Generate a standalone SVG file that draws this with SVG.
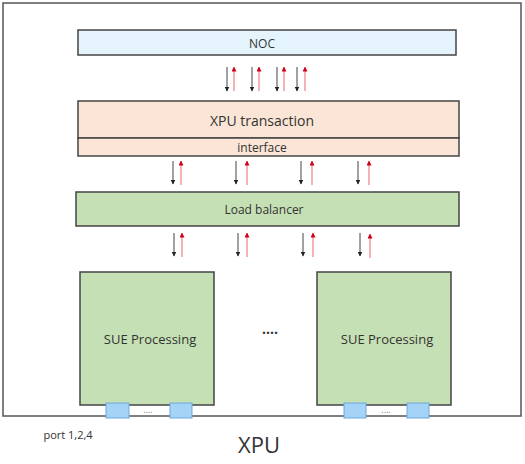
<svg xmlns="http://www.w3.org/2000/svg" width="525" height="464" viewBox="0 0 525 464">
<defs>
<marker id="hb" viewBox="0 0 10 10" refX="9" refY="5" markerWidth="5" markerHeight="5" orient="auto" markerUnits="userSpaceOnUse"><path d="M0,0 L10,5 L0,10 z" fill="#222"/></marker>
<marker id="hr" viewBox="0 0 10 10" refX="9" refY="5" markerWidth="5" markerHeight="5" orient="auto" markerUnits="userSpaceOnUse"><path d="M0,0 L10,5 L0,10 z" fill="#d0021b"/></marker>
</defs>
<style>
text{font-family:"Open Sans","Noto Sans",sans-serif;fill:#333;text-anchor:middle;dominant-baseline:central}
.box{stroke:#444;stroke-width:1.5}
.dn{stroke:#444;stroke-width:1;marker-end:url(#hb)}
.up{stroke:#f08a8a;stroke-width:1.3;marker-end:url(#hr)}
.port{fill:#a4d3f7;stroke:#6fa8dc;stroke-width:1}
.dots{fill:#777;font-size:9px}
</style>
<rect id="frame" x="3" y="3" width="518" height="413" fill="#fff" stroke="#555" stroke-width="1.5"/>
<g id="noc"><rect class="box" x="78" y="30" width="378" height="25" fill="#e4f3fc"/><text x="262" y="43" font-size="12">NOC</text></g>
<g id="xpu-transaction"><rect class="box" x="78" y="101" width="381" height="37" fill="#fbe5d6"/><text x="262" y="120" font-size="14">XPU transaction</text></g>
<g id="interface"><rect class="box" x="78" y="138" width="381" height="18" fill="#fbe5d6"/><text x="262" y="147" font-size="12">interface</text></g>
<g id="load-balancer"><rect class="box" x="76" y="192" width="383" height="34" fill="#c5e0b4"/><text x="264" y="209" font-size="12">Load balancer</text></g>
<g id="sue1"><rect class="box" x="80" y="272" width="134" height="133" fill="#c5e0b4"/><text x="150" y="339" font-size="13">SUE Processing</text></g>
<g id="sue2"><rect class="box" x="317" y="272" width="134" height="133" fill="#c5e0b4"/><text x="387" y="339" font-size="13">SUE Processing</text></g>
<g id="ports1"><rect class="port" x="106" y="403" width="23" height="15"/><rect class="port" x="170" y="403" width="22" height="15"/><text class="dots" x="148" y="409">....</text></g>
<g id="ports2"><rect class="port" x="344" y="403" width="22" height="15"/><rect class="port" x="407" y="403" width="22" height="15"/><text class="dots" x="386" y="409">....</text></g>
<text x="270" y="328" font-size="14" font-weight="bold">....</text>
<text x="68" y="434" font-size="11">port 1,2,4</text>
<text x="259" y="444" font-size="22">XPU</text>
<g id="connectors">
<line class="dn" x1="227" y1="67" x2="227" y2="91"/><line class="up" x1="234" y1="91" x2="234" y2="67"/>
<line class="dn" x1="252" y1="67" x2="252" y2="91"/><line class="up" x1="259" y1="91" x2="259" y2="67"/>
<line class="dn" x1="277" y1="67" x2="277" y2="91"/><line class="up" x1="284" y1="91" x2="284" y2="67"/>
<line class="dn" x1="297" y1="67" x2="297" y2="91"/><line class="up" x1="305" y1="91" x2="305" y2="67"/>
<line class="dn" x1="173" y1="161" x2="173" y2="184"/><line class="up" x1="181" y1="185" x2="181" y2="161"/>
<line class="dn" x1="236" y1="161" x2="236" y2="184"/><line class="up" x1="247" y1="185" x2="247" y2="161"/>
<line class="dn" x1="301" y1="161" x2="301" y2="184"/><line class="up" x1="312" y1="185" x2="312" y2="161"/>
<line class="dn" x1="358" y1="161" x2="358" y2="184"/><line class="up" x1="369" y1="185" x2="369" y2="161"/>
<line class="dn" x1="174" y1="233" x2="174" y2="256"/><line class="up" x1="182" y1="257" x2="182" y2="233"/>
<line class="dn" x1="238" y1="233" x2="238" y2="256"/><line class="up" x1="247" y1="257" x2="247" y2="233"/>
<line class="dn" x1="303" y1="233" x2="303" y2="256"/><line class="up" x1="313" y1="257" x2="313" y2="233"/>
<line class="dn" x1="360" y1="233" x2="360" y2="256"/><line class="up" x1="370" y1="258" x2="370" y2="234"/>
</g>
</svg>
